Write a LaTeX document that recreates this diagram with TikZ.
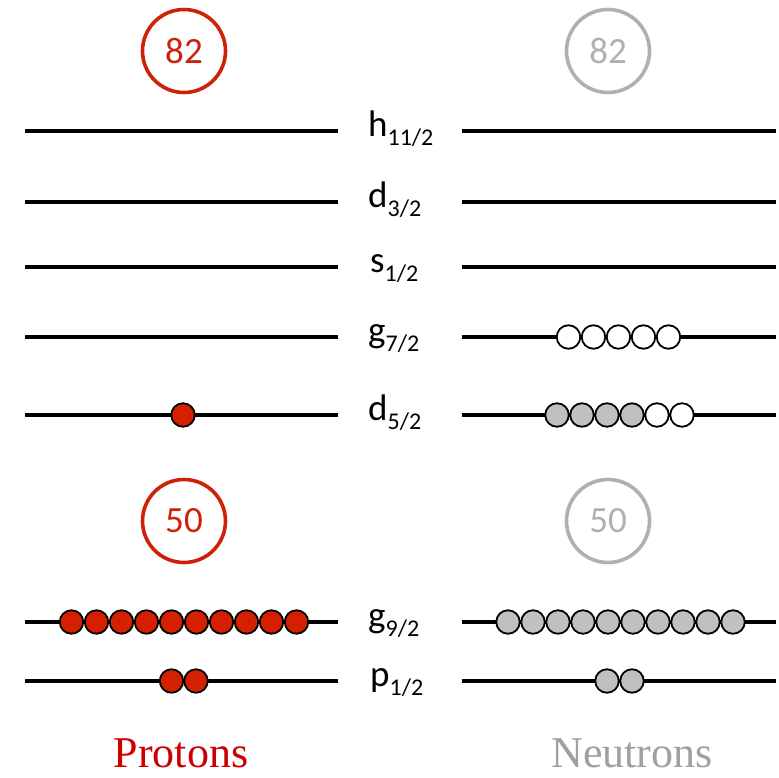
\documentclass[tikz,border=0pt]{standalone}
\usepackage{fontspec}
\setmainfont{Carlito}
\newfontfamily\serifm{Liberation Serif}
\definecolor{pred}{RGB}{212,32,0}
\definecolor{pring}{RGB}{204,34,10}
\definecolor{ngray}{RGB}{192,192,192}
\definecolor{nring}{RGB}{176,176,176}
\definecolor{ntext}{RGB}{160,160,160}
\definecolor{ptext}{RGB}{204,0,0}
\newcommand\mysub[1]{\raisebox{-9pt}{\fontsize{24}{24}\selectfont #1}}
\begin{document}
\begin{tikzpicture}[x=1pt,y=-1pt,
  level/.style={line width=3.6pt},
  ball/.style={circle,draw=black,line width=1.8pt,minimum size=23.5pt,inner sep=0pt},
  pball/.style={ball,fill=pred},
  nball/.style={ball,fill=ngray},
  eball/.style={ball,fill=white},
  lab/.style={anchor=base west,inner sep=0pt,font=\fontsize{37}{37}\selectfont},
  magic/.style={circle,line width=3.6pt,minimum size=83pt,inner sep=0pt,font=\fontsize{37}{37}\selectfont},
  side/.style={anchor=base,inner sep=0pt,font=\serifm\fontsize{44}{44}\selectfont}]
\useasboundingbox (0,0) rectangle (779,777);
% levels
\foreach \y in {131,202,267,337,415,622,681}{
  \draw[level] (25,\y) -- (338,\y);
  \draw[level] (462,\y) -- (776,\y);
}
% labels
\node[lab] (h) at (368,136) {h\mysub{11/2}};
\node[lab] (d3) at (368,207) {d\mysub{3/2}};
\node[lab] (s) at (370,272) {s\mysub{1/2}};
\node[lab] (g7) at (368,342) {g\mysub{7/2}};
\node[lab] (d5) at (368,420) {d\mysub{5/2}};
\node[lab] (g9) at (368,627) {g\mysub{9/2}};
\node[lab] (p) at (370,686) {p\mysub{1/2}};
% magic numbers
\node[magic,draw=pring,text=pring] (p82) at (184,51) {82};
\node[magic,draw=nring,text=nring] (n82) at (608,51) {82};
\node[magic,draw=pring,text=pring] (p50) at (184,521) {50};
\node[magic,draw=nring,text=nring] (n50) at (608,521) {50};
% protons
\node[pball] (pd) at (183,415) {};
\foreach \i in {0,...,9}{\node[pball] (pg\i) at (71.5+25*\i,622) {};}
\node[pball] (pp0) at (171.5,681) {};
\node[pball] (pp1) at (196,681) {};
% neutrons
\foreach \i in {0,...,4}{\node[eball] (ng7\i) at (568.5+25*\i,337) {};}
\foreach \i in {0,...,3}{\node[nball] (nd\i) at (557+25*\i,415) {};}
\foreach \i in {4,5}{\node[eball] (nd\i) at (557+25*\i,415) {};}
\foreach \i in {0,...,9}{\node[nball] (ng\i) at (508+25*\i,622) {};}
\node[nball] (np0) at (607,681) {};
\node[nball] (np1) at (632,681) {};
% titles
\node[side,text=ptext] (prot) at (181,767) {Protons};
\node[side,text=ntext] (neut) at (632,767) {Neutrons};
\end{tikzpicture}
\end{document}
